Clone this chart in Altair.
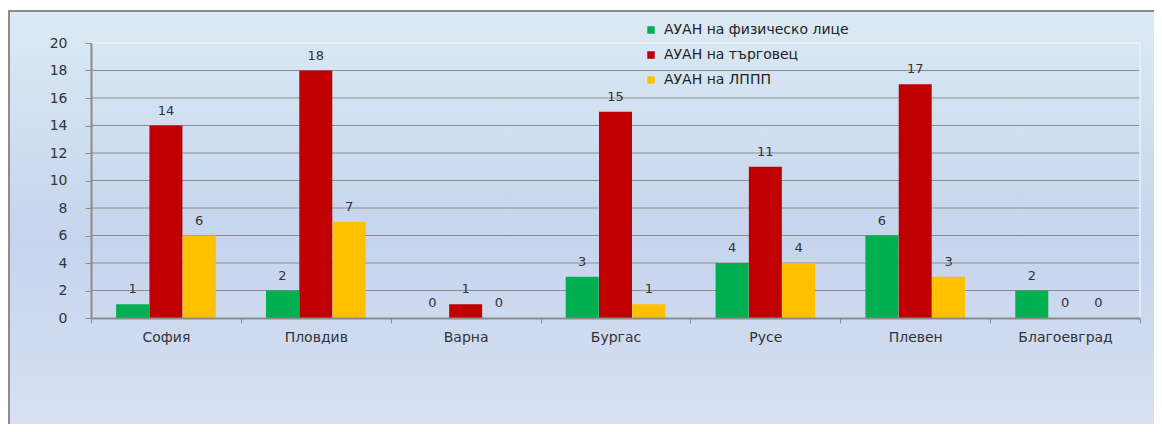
import altair as alt
import pandas as pd

cities = ["София", "Пловдив", "Варна", "Бургас", "Русе", "Плевен", "Благоевград"]
series = ["АУАН на  физическо лице", "АУАН на търговец", "АУАН на ЛППП"]
physical = [1, 2, 0, 3, 4, 6, 2]
trader = [14, 18, 1, 15, 11, 17, 0]
lppp = [6, 7, 0, 1, 4, 3, 0]
colors = ["#00b050", "#c00000", "#ffc000"]
y_ticks = [0, 2, 4, 6, 8, 10, 12, 14, 16, 18, 20]

rows = []
for i, c in enumerate(cities):
    for s, vals in zip(series, [physical, trader, lppp]):
        rows.append({"city": c, "series": s, "value": vals[i]})
df = pd.DataFrame(rows)

W, H = 1049, 275
FONT = "DejaVu Sans"

xs = alt.X("city:N", sort=cities,
           scale=alt.Scale(paddingInner=0, paddingOuter=0),
           axis=alt.Axis(title=None, labelAngle=0, labelFont=FONT, labelFontSize=14,
                         labelColor="#333333", domainColor="#8c8c8c", domainWidth=2,
                         tickColor="#8c8c8c", tickSize=5, tickBand="extent",
                         labelPadding=7, grid=False, zindex=1))
xo = alt.XOffset("series:N", sort=series, scale=alt.Scale(paddingOuter=0.75, paddingInner=0))
ys = alt.Y("value:Q", scale=alt.Scale(domain=[0, 20], nice=False),
           axis=alt.Axis(title=None, values=y_ticks, grid=False, labelFont=FONT,
                         labelFontSize=14, labelColor="#333333", domainColor="#8c8c8c",
                         domainWidth=2, tickColor="#8c8c8c", tickSize=6, labelPadding=18,
                         zindex=1))

grad = alt.LinearGradient(
    gradient="linear", x1=0, y1=0, x2=0, y2=1,
    stops=[alt.GradientStop(offset=0, color="#dbeaf4"),
           alt.GradientStop(offset=0.45, color="#c6d4ed"),
           alt.GradientStop(offset=1, color="#e0e7f5")])

bg = alt.Chart(alt.Data(values=[{}])).mark_rect(
    fill=grad, stroke="#8c8c8c", strokeWidth=2
).encode(x=alt.value(-82), x2=alt.value(1200), y=alt.value(-32), y2=alt.value(480))

grid_df = pd.DataFrame({"value": y_ticks[1:-1]})
grid = alt.Chart(grid_df).mark_rule(color="#8c8c8c", strokeWidth=1).encode(
    y=ys, x=alt.value(0), x2=alt.value(W))

top_df = pd.DataFrame({"value": [y_ticks[-1]]})
top = alt.Chart(top_df).mark_rule(color="#f4efe4", strokeWidth=1.5).encode(
    y=ys, x=alt.value(0), x2=alt.value(W))
right = alt.Chart(alt.Data(values=[{}])).mark_rule(color="#eef0f4", strokeWidth=1.5).encode(
    x=alt.value(W), y=alt.value(0), y2=alt.value(H))

bars = alt.Chart(df).mark_bar(size=33).encode(
    x=xs, xOffset=xo, y=ys,
    color=alt.Color("series:N", sort=series,
                    scale=alt.Scale(domain=series, range=colors),
                    legend=alt.Legend(title=None, orient="none", legendX=553, legendY=-20,
                                      labelFont=FONT, labelFontSize=14, labelColor="#222222",
                                      symbolType="square", symbolSize=56, symbolStrokeWidth=0,
                                      rowPadding=11, labelOffset=6, labelLimit=400)))

labels = alt.Chart(df).mark_text(dy=-8, font=FONT, fontSize=13, color="#333333",
                                 baseline="bottom").encode(
    x=xs, xOffset=xo, y=ys, text="value:Q")

chart = alt.layer(bg, grid, top, right, bars, labels).properties(
    width=W, height=H,
    autosize=alt.AutoSizeParams(type="none"),
    padding={"left": 83, "top": 35, "right": 14, "bottom": 106},
    background="white",
).configure_view(stroke=None)

chart.save("out.html", embed_options={"renderer": "svg", "actions": False})
